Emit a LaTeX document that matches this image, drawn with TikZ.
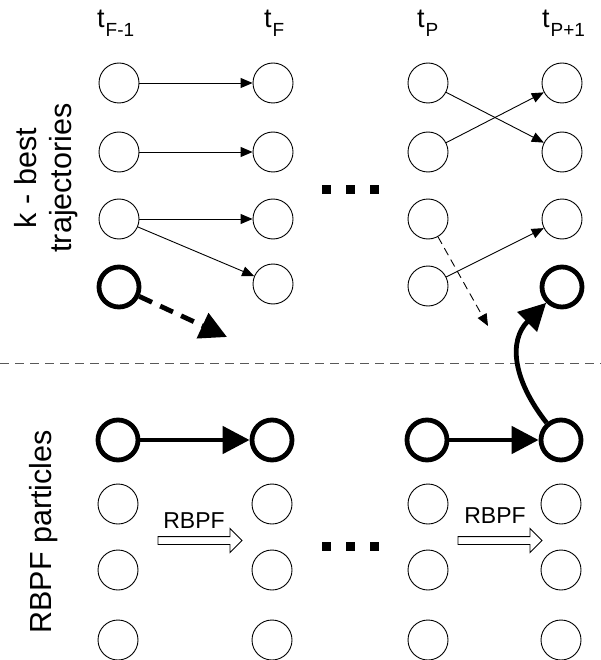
\documentclass[tikz,border=0pt]{standalone}
\usepackage{fontspec}
\setmainfont{Liberation Sans}
\usetikzlibrary{arrows.meta,shapes.arrows}
\begin{document}
\begin{tikzpicture}[x=1pt,y=-1pt,
  thin/.style={circle,draw,line width=0.9pt,minimum size=40pt,inner sep=0pt},
  bold/.style={circle,draw,line width=4.8pt,minimum size=40pt,inner sep=0pt},
  thinarr/.style={-{Triangle[length=12pt,width=10pt]},line width=0.9pt},
  thinarrdash/.style={thinarr,dash pattern=on 8pt off 5pt},
  boldarr/.style={-{Triangle[length=27pt,width=27pt]},line width=4.8pt},
  boldarrdash/.style={boldarr,dash pattern=on 14pt off 9pt},
  sq/.style={fill=black,minimum size=9pt,inner sep=0pt},
  rbpf/.style={single arrow,draw,line width=0.9pt,inner sep=3.5pt,single arrow head extend=8pt,minimum height=84pt},
  tlab/.style={anchor=base west,inner sep=0pt},
  side/.style={rotate=90,align=center,inner sep=0pt,font=\fontsize{30.5}{35}\selectfont}
]
\useasboundingbox (0,0) rectangle (601,660);
% time labels
\newcommand{\tl}[1]{\fontsize{27}{27}\selectfont t\kern1pt\raisebox{-9pt}{\fontsize{19}{19}\selectfont #1}}
\node[tlab] (l1) at (97,28) {\tl{F-1}};
\node[tlab] (l2) at (264,28) {\tl{F}};
\node[tlab] (l3) at (417,28) {\tl{P}};
\node[tlab] (l4) at (542,28) {\tl{P+1}};
% side labels
\node[side] (s1) at (46,178) {k - best\\trajectories};
\node[side] (s2) at (44,532) {RBPF particles};
% top circles
\foreach \c/\x in {1/119,2/273,3/428,4/562}{
  \foreach \r/\y in {1/83,2/152,3/219}{
    \node[thin] (t\c\r) at (\x,\y) {};
  }
}
\node[bold] (t14) at (119,287) {};
\node[thin] (t24) at (273,284) {};
\node[thin] (t34) at (428,286) {};
\node[bold] (t44) at (562,287) {};
% bottom circles
\node[bold] (b11) at (118,440) {};
\node[bold] (b21) at (272,440) {};
\node[bold] (b31) at (427,440) {};
\node[bold] (b41) at (561,440) {};
\foreach \c/\x in {1/118,2/272,3/428,4/561}{
  \foreach \r/\y in {2/504,3/570,4/640}{
    \node[thin] (b\c\r) at (\x,\y) {};
  }
}
% separator
\coordinate (sl) at (0,363);
\coordinate (sr) at (601,363);
\draw[gray!70!black,line width=0.9pt,dash pattern=on 9pt off 6pt] (sl) -- (sr);
% dots
\foreach \i/\x in {1/326,2/350,3/374}{
  \node[sq] (du\i) at (\x,190) {};
  \node[sq] (dl\i) at (\x,546) {};
}
% top arrows
\draw[thinarr] (t11) -- (t21);
\draw[thinarr] (t12) -- (t22);
\draw[thinarr] (t13) -- (t23);
\draw[thinarr] (t13) -- (t24);
\draw[thinarr] (t31) -- (t42);
\draw[thinarr] (t32) -- (t41);
\draw[thinarr] (t34) -- (t43);
\coordinate (e1) at (488,326);
\draw[thinarrdash] (t33) -- (e1);
\coordinate (e2) at (227,337);
\draw[boldarrdash] (t14) -- (e2);
% bottom arrows
\draw[boldarr] (b11) -- (b21);
\draw[boldarr] (b31) -- (b41);
\draw[boldarr] (b41.130) .. controls (513,380) and (508,341) .. (t44.225);
% RBPF arrows
\node[rbpf] (r1) at (198,540.5) {};
\node[anchor=base,inner sep=0pt,font=\fontsize{23}{23}\selectfont] (rt1) at (194,528) {RBPF};
\node[rbpf] (r2) at (498,540.5) {};
\node[anchor=base,inner sep=0pt,font=\fontsize{23}{23}\selectfont] (rt2) at (495,523) {RBPF};
\end{tikzpicture}
\end{document}
